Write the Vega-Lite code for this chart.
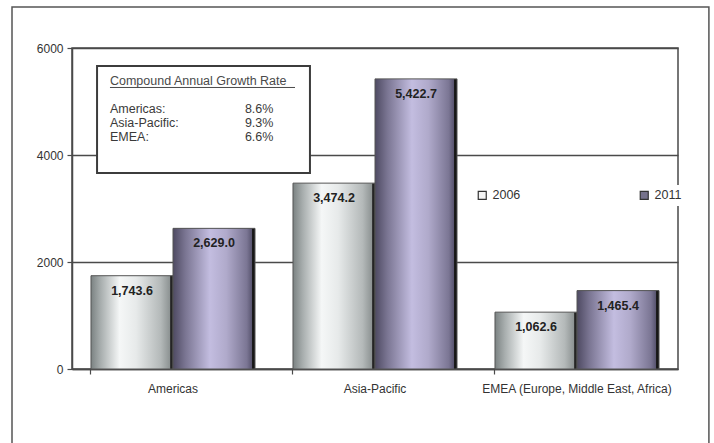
{
  "$schema": "https://vega.github.io/schema/vega-lite/v6.json",
  "width": 606,
  "height": 321,
  "autosize": {"type": "none"},
  "padding": {"left": 72, "top": 48, "right": 36, "bottom": 74},
  "background": "white",
  "config": {
    "font": "Liberation Sans",
    "view": {"stroke": "#4a4a4a", "strokeWidth": 1.5},
    "axis": {"domainColor": "#4a4a4a", "domainWidth": 1.5, "tickColor": "#4a4a4a", "tickWidth": 1.2, "labelColor": "#333333", "labelFont": "Liberation Sans"}
  },
  "datasets": {
    "sales": [
      {"region": "Americas", "year": "2006", "value": 1743.6},
      {"region": "Americas", "year": "2011", "value": 2629.0},
      {"region": "Asia-Pacific", "year": "2006", "value": 3474.2},
      {"region": "Asia-Pacific", "year": "2011", "value": 5422.7},
      {"region": "EMEA (Europe, Middle East, Africa)", "year": "2006", "value": 1062.6},
      {"region": "EMEA (Europe, Middle East, Africa)", "year": "2011", "value": 1465.4}
    ],
    "cagr": [
      {"region": "Americas:", "rate": "8.6%"},
      {"region": "Asia-Pacific:", "rate": "9.3%"},
      {"region": "EMEA:", "rate": "6.6%"}
    ],
    "heading": [
      {"title": "Compound Annual Growth Rate"}
    ]
  },
  "layer": [
    {
      "data": {"name": "sales"},
      "encoding": {
        "x": {
          "field": "region", "type": "nominal", "sort": null,
          "scale": {"paddingInner": 0.188, "paddingOuter": 0.094},
          "axis": {"title": null, "labelAngle": 0, "bandPosition": 0, "tickSize": 5, "labelPadding": 9, "labelFontSize": 12, "labelLimit": 400, "domain": true}
        },
        "xOffset": {"field": "year", "type": "nominal", "scale": {"domain": ["2006", "2011"]}},
        "y": {
          "field": "value", "type": "quantitative",
          "scale": {"domain": [0, 6000], "nice": false},
          "axis": {"title": null, "values": [0, 2000, 4000, 6000], "format": "d", "grid": true, "gridColor": "#4a4a4a", "gridWidth": 1.5, "tickSize": 5, "labelPadding": 4, "labelFontSize": 12}
        }
      },
      "layer": [
        {
          "mark": {"type": "bar"},
          "encoding": {
            "color": {
              "field": "year", "type": "nominal",
              "scale": {"domain": ["2006", "2011"], "range": ["#f4f4f4", "#76728c"]},
              "legend": {
                "title": null, "orient": "none", "legendX": 400, "legendY": 137, "direction": "horizontal",
                "columnPadding": 116, "symbolType": "square", "symbolSize": 64, "symbolStrokeColor": "#333333", "symbolStrokeWidth": 1.2,
                "labelFontSize": 12.5, "labelColor": "#333333", "labelOffset": 4, "fillColor": "white", "padding": 4
              }
            }
          }
        },
        {
          "transform": [{"filter": "datum.year === '2006'"}],
          "mark": {
            "type": "bar", "stroke": "#555555", "strokeWidth": 1,
            "color": {"gradient": "linear", "x1": 0, "y1": 0, "x2": 1, "y2": 0,
              "stops": [
                {"offset": 0, "color": "#7b8282"},
                {"offset": 0.12, "color": "#a8aeae"},
                {"offset": 0.35, "color": "#f5f7f7"},
                {"offset": 0.55, "color": "#e7eaea"},
                {"offset": 0.85, "color": "#b4b9b9"},
                {"offset": 0.965, "color": "#8c9292"},
                {"offset": 0.97, "color": "#2a2a2a"},
                {"offset": 1, "color": "#1c1c1c"}
              ]}
          }
        },
        {
          "transform": [{"filter": "datum.year === '2011'"}],
          "mark": {
            "type": "bar", "stroke": "#555555", "strokeWidth": 1,
            "color": {"gradient": "linear", "x1": 0, "y1": 0, "x2": 1, "y2": 0,
              "stops": [
                {"offset": 0, "color": "#4e4a62"},
                {"offset": 0.15, "color": "#7a7592"},
                {"offset": 0.45, "color": "#c3bde0"},
                {"offset": 0.65, "color": "#b0aacb"},
                {"offset": 0.9, "color": "#7b7694"},
                {"offset": 0.96, "color": "#5a5671"},
                {"offset": 0.965, "color": "#1c1c1c"},
                {"offset": 1, "color": "#111111"}
              ]}
          }
        },
        {
          "mark": {"type": "text", "dy": 15, "baseline": "middle", "fontWeight": "bold", "fontSize": 12.5, "color": "#222222"},
          "encoding": {"text": {"field": "value", "type": "quantitative", "format": ",.1f"}}
        }
      ]
    },
    {
      "layer": [
        {
          "data": {"values": [{}]},
          "mark": {"type": "rect", "fill": null, "fillOpacity": 0, "stroke": "#555555", "strokeWidth": 1.5, "clip": false},
          "encoding": {
            "x": {"datum": -0.297, "type": "quantitative", "scale": {"domain": [0, 3], "nice": false, "zero": false}, "axis": null},
            "x2": {"datum": 3.153},
            "y": {"datum": 6766, "type": "quantitative", "axis": null},
            "y2": {"datum": -1500}
          }
        },
        {
          "data": {"values": [{}]},
          "mark": {"type": "rect", "fill": "white", "stroke": "#3c3c3c", "strokeWidth": 2, "clip": false},
          "encoding": {
            "x": {"datum": 0.124, "type": "quantitative", "axis": null},
            "x2": {"datum": 1.178},
            "y": {"datum": 5664, "type": "quantitative", "axis": null},
            "y2": {"datum": 3664}
          }
        },
        {
          "data": {"name": "heading"},
          "mark": {"type": "text", "align": "left", "baseline": "middle", "fontSize": 12.5, "color": "#4a4a4a"},
          "encoding": {
            "x": {"datum": 0.188, "type": "quantitative", "axis": null},
            "y": {"datum": 5383, "type": "quantitative", "axis": null},
            "text": {"field": "title"}
          }
        },
        {
          "data": {"values": [{}]},
          "mark": {"type": "rule", "color": "#4a4a4a", "strokeWidth": 1},
          "encoding": {
            "x": {"datum": 0.188, "type": "quantitative", "axis": null},
            "x2": {"datum": 1.104},
            "y": {"datum": 5262, "type": "quantitative", "axis": null}
          }
        },
        {
          "data": {"name": "cagr"},
          "transform": [{"filter": "datum.region === 'Americas:'"}],
          "layer": [
            {"mark": {"type": "text", "align": "left", "baseline": "middle", "fontSize": 12.5, "color": "#3a3a3a"},
             "encoding": {"x": {"datum": 0.188, "type": "quantitative", "axis": null}, "y": {"datum": 4860, "type": "quantitative", "axis": null}, "text": {"field": "region"}}},
            {"mark": {"type": "text", "align": "left", "baseline": "middle", "fontSize": 12.5, "color": "#3a3a3a"},
             "encoding": {"x": {"datum": 0.856, "type": "quantitative", "axis": null}, "y": {"datum": 4860, "type": "quantitative", "axis": null}, "text": {"field": "rate"}}}
          ]
        },
        {
          "data": {"name": "cagr"},
          "transform": [{"filter": "datum.region === 'Asia-Pacific:'"}],
          "layer": [
            {"mark": {"type": "text", "align": "left", "baseline": "middle", "fontSize": 12.5, "color": "#3a3a3a"},
             "encoding": {"x": {"datum": 0.188, "type": "quantitative", "axis": null}, "y": {"datum": 4598, "type": "quantitative", "axis": null}, "text": {"field": "region"}}},
            {"mark": {"type": "text", "align": "left", "baseline": "middle", "fontSize": 12.5, "color": "#3a3a3a"},
             "encoding": {"x": {"datum": 0.856, "type": "quantitative", "axis": null}, "y": {"datum": 4598, "type": "quantitative", "axis": null}, "text": {"field": "rate"}}}
          ]
        },
        {
          "data": {"name": "cagr"},
          "transform": [{"filter": "datum.region === 'EMEA:'"}],
          "layer": [
            {"mark": {"type": "text", "align": "left", "baseline": "middle", "fontSize": 12.5, "color": "#3a3a3a"},
             "encoding": {"x": {"datum": 0.188, "type": "quantitative", "axis": null}, "y": {"datum": 4336, "type": "quantitative", "axis": null}, "text": {"field": "region"}}},
            {"mark": {"type": "text", "align": "left", "baseline": "middle", "fontSize": 12.5, "color": "#3a3a3a"},
             "encoding": {"x": {"datum": 0.856, "type": "quantitative", "axis": null}, "y": {"datum": 4336, "type": "quantitative", "axis": null}, "text": {"field": "rate"}}}
          ]
        }
      ]
    }
  ],
  "resolve": {"scale": {"x": "independent"}, "axis": {"x": "independent", "y": "independent"}}
}
